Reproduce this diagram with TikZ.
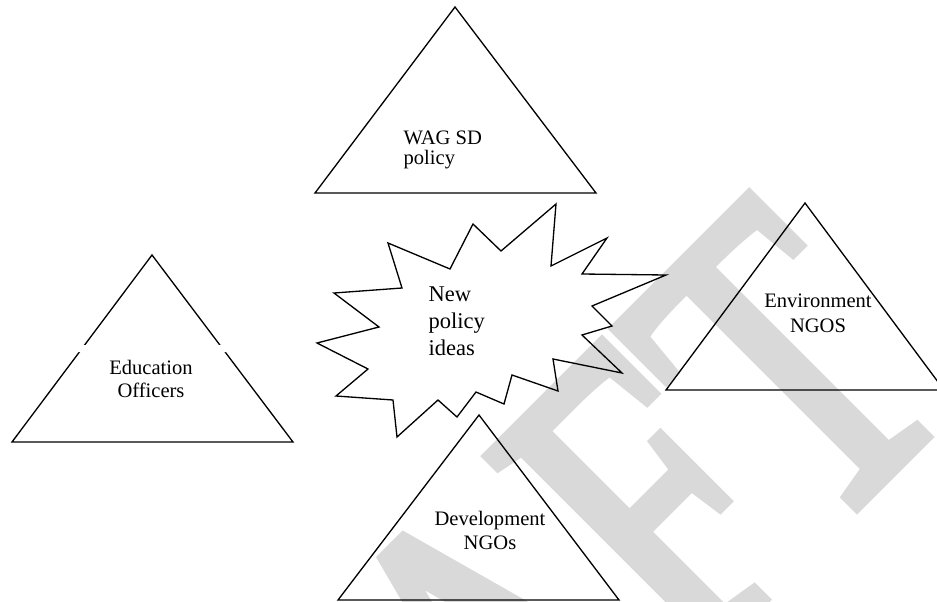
\documentclass[tikz,border=0pt]{standalone}
\usepackage{fontspec}
\setmainfont{Liberation Serif}
\newfontfamily\wmfont[FakeBold=3]{Liberation Serif}
\begin{document}
\begin{tikzpicture}[x=0.02cm,y=-0.02cm,line width=0.75pt,line join=miter,
	lbl/.style={inner sep=0pt,anchor=base,align=center,font=\fontsize{11.7}{#1}\selectfont},
	lbl/.default=13.4pt,
	wmark/.style={inner sep=0pt,text=black!15,font=\wmfont\fontsize{188}{188}\selectfont}]
	\useasboundingbox (0,0) rectangle (937,602);
	\clip (0,0) rectangle (937,602);
	\node[wmark,anchor=base east,rotate=45,yscale=1.36] (draft) at (963,399) {DRAFT};
	\draw (455,7)--(596,193)--(315,193)--cycle (152,255)--(293,442)--(12,442)--cycle
		(805,203)--(944,390)--(666,390)--cycle (479,415)--(619,600)--(338,600)--cycle;
	\fill[white] (78,345) rectangle (87,352) (217,345) rectangle (226,352);
	\draw (473,224)--(501,251)--(556,204)--(551,266)--(607,238)--(582,274)--(666,275)--(592,306)--(612,326)--(582,335)--(622,373)--(553,359)--(558,391)--(512,375)--(504,404)--(476,392)--(457,417)--(438,400)--(397,437)--(393,400)--(336,396)--(368,369)--(317,343)--(379,327)--(334,293)--(402,288)--(388,243)--(450,269)--cycle;
	% last line of each label sits on the given baseline
	\node[lbl=11.2pt,align=left,anchor=base west] (wag) at (403,164) {WAG SD\\policy};
	\node[lbl=12.7pt] (edu) at (151,397) {Education\\Officers};
	\node[lbl=13.7pt] (env) at (818,332) {Environment\\NGOS};
	\node[lbl] (dev) at (490,549) {Development\\NGOs};
	\node[inner sep=0pt,align=left,anchor=base west,font=\fontsize{12.8}{15.2}\selectfont] (ideas) at (428,355) {New\\policy\\ideas};
\end{tikzpicture}
\end{document}
